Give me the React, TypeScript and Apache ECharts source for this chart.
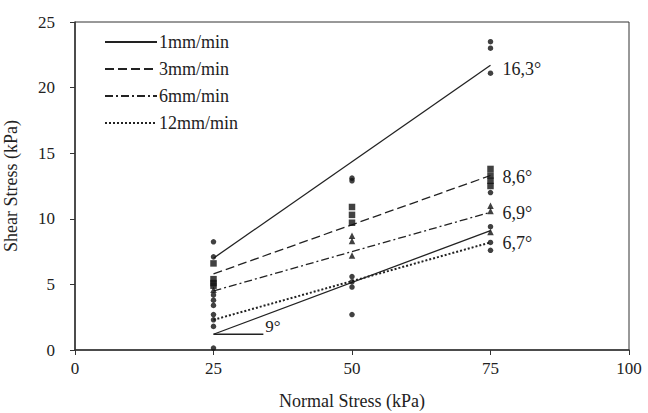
import React, { useEffect, useRef } from "react";
import * as echarts from "echarts";

const xTicks = [0, 25, 50, 75, 100];
const yTicks = [0, 5, 10, 15, 20, 25];

const circlePoints: number[][] = [
  [25, 8.25], [25, 7.1], [25, 4.2], [25, 3.8], [25, 3.4], [25, 2.7], [25, 2.3], [25, 1.8], [25, 0.15],
  [50, 13.1], [50, 12.9], [50, 5.6], [50, 5.2], [50, 4.8], [50, 2.7],
  [75, 23.5], [75, 23.0], [75, 21.1], [75, 12.0], [75, 9.4], [75, 8.2], [75, 7.6],
];
const squarePoints: number[][] = [
  [25, 6.6], [25, 5.4], [25, 5.1], [25, 4.9],
  [50, 10.9], [50, 10.3], [50, 9.7],
  [75, 13.8], [75, 13.3], [75, 12.9], [75, 12.5],
];
const trianglePoints: number[][] = [
  [25, 4.6],
  [50, 8.7], [50, 8.3], [50, 7.2],
  [75, 11.0], [75, 10.6], [75, 9.0],
];

const seriesNames = ["1mm/min", "3mm/min", "6mm/min", "12mm/min"];
const fitStart = [7.0, 5.8, 4.5, 2.3];
const fitEnd = [21.7, 13.3, 10.5, 8.2];
const fitAngles = ["16,3°", "8,6°", "6,9°", "6,7°"];
const lowerFit = [[25, 1.2], [75, 9.1]];
const angleRef = [[25, 1.2], [34, 1.2]];
const lowerAngleText = "9°";

const dashTypes: any[] = ["solid", [9, 4], [8, 3, 2, 3], [2, 2]];
const FONT = "Liberation Serif";

export default function App() {
  const ref = useRef<HTMLDivElement>(null);
  useEffect(() => {
    if (!ref.current) return;
    const chart = echarts.init(ref.current, null, { renderer: "svg" });
    const fitSeries = seriesNames.map((name, i) => ({
      name,
      type: "line",
      symbol: "none",
      data: [[25, fitStart[i]], [75, fitEnd[i]]],
      lineStyle: { color: "#222", width: i === 3 ? 2 : 1.3, type: dashTypes[i] },
      itemStyle: { color: "#222" },
      endLabel: {
        show: true,
        formatter: fitAngles[i],
        distance: 12,
        offset: [0, i === 0 ? 4 : 1],
        fontFamily: FONT,
        fontSize: 18,
        color: "#222",
      },
      z: 3,
    }));
    chart.setOption({
      animation: false,
      grid: {
        left: 75, right: 19, top: 22, bottom: 63,
        outerBoundsMode: "none",
        containLabel: false,
        show: true, borderColor: "#333", borderWidth: 1,
      },
      legend: {
        data: seriesNames,
        orient: "vertical",
        left: 99,
        top: 28,
        itemWidth: 52,
        itemHeight: 14,
        itemGap: 9,
        itemStyle: { opacity: 0 },
        textStyle: { fontFamily: FONT, fontSize: 18, color: "#222", padding: [0, 0, 0, -3] },
      },
      xAxis: {
        type: "value",
        min: 0,
        max: 100,
        interval: 25,
        name: "Normal Stress (kPa)",
        nameLocation: "middle",
        nameGap: 42,
        nameTextStyle: { fontFamily: FONT, fontSize: 18, color: "#222" },
        axisLine: { show: true, lineStyle: { color: "#333", width: 1.5 } },
        axisTick: { show: true, length: 5, lineStyle: { color: "#333" } },
        axisLabel: {
          fontFamily: FONT,
          fontSize: 17,
          color: "#222",
          margin: 10,
          formatter: (v: number) => (xTicks.includes(v) ? String(v) : ""),
        },
        splitLine: { show: false },
      },
      yAxis: {
        type: "value",
        min: 0,
        max: 25,
        interval: 5,
        name: "Shear Stress (kPa)",
        nameLocation: "middle",
        nameGap: 55,
        nameTextStyle: { fontFamily: FONT, fontSize: 18, color: "#222" },
        axisLine: { show: true, lineStyle: { color: "#333", width: 1.5 } },
        axisTick: { show: true, length: 5, lineStyle: { color: "#333" } },
        axisLabel: {
          fontFamily: FONT,
          fontSize: 17,
          color: "#222",
          margin: 20,
          formatter: (v: number) => (yTicks.includes(v) ? String(v) : ""),
        },
        splitLine: { show: false },
      },
      series: [
        ...fitSeries,
        {
          type: "line",
          symbol: "none",
          data: lowerFit,
          lineStyle: { color: "#222", width: 1.3 },
          z: 3,
        },
        {
          type: "line",
          symbol: "none",
          data: angleRef,
          lineStyle: { color: "#222", width: 1.3 },
          endLabel: {
            show: true,
            formatter: lowerAngleText,
            distance: 2,
            offset: [0, -8],
            fontFamily: FONT,
            fontSize: 17,
            color: "#222",
          },
          z: 3,
        },
        {
          type: "scatter",
          data: circlePoints,
          symbol: "circle",
          symbolSize: 5.5,
          itemStyle: { color: "#111" },
          z: 4,
        },
        {
          type: "scatter",
          data: squarePoints,
          symbol: "rect",
          symbolSize: 6.5,
          itemStyle: { color: "#111" },
          z: 4,
        },
        {
          type: "scatter",
          data: trianglePoints,
          symbol: "triangle",
          symbolSize: 6.5,
          itemStyle: { color: "#111" },
          z: 4,
        },
      ],
    });
    return () => chart.dispose();
  }, []);
  return <div ref={ref} style={{ width: 648, height: 413, position: "absolute", left: 0, top: 0, background: "#fff" }} />;
}
